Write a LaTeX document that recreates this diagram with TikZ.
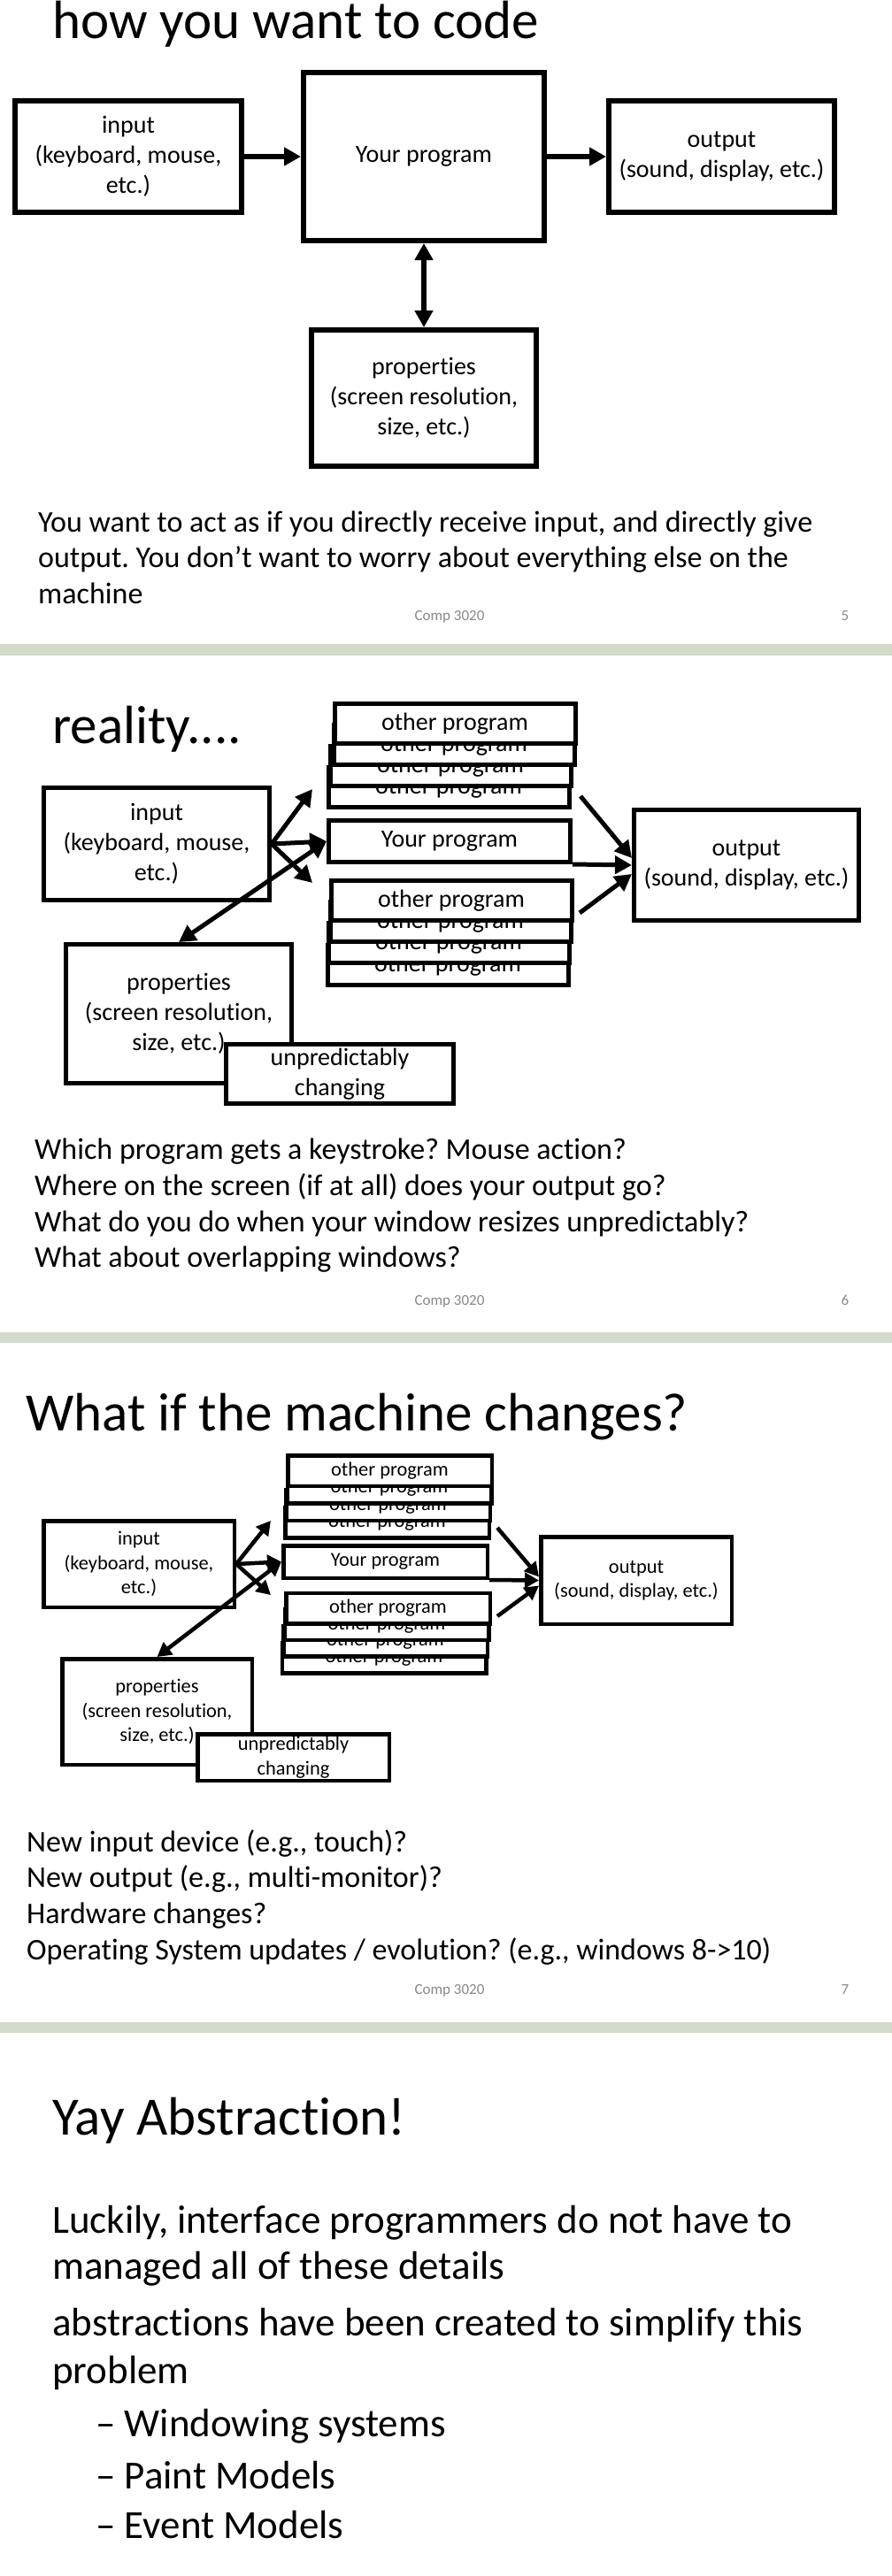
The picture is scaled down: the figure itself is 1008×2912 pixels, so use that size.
\documentclass[tikz,border=0pt]{standalone}
\usepackage{fontspec}
\setmainfont{Carlito}[Ligatures={NoCommon,NoRequired,NoContextual}]
\usetikzlibrary{arrows.meta}
\definecolor{BandGray}{RGB}{212,218,204}
\definecolor{FootGray}{RGB}{137,137,137}
\frenchspacing

\begin{document}
\begin{tikzpicture}[x=1pt,y=-1pt,>={Triangle[length=19pt,width=20pt]},
    box/.style={draw,line width=5pt,fill=white,align=center,inner sep=0pt,
      font=\fontsize{28}{34}\selectfont},
    smallbox/.style={box,line width=4.5pt,font=\fontsize{22.4}{27.5}\selectfont},
    conn/.style={line width=5pt},
    title/.style={anchor=base west,inner sep=0pt,font=\fontsize{61}{73}\selectfont},
    body/.style={anchor=base west,inner sep=0pt,font=\fontsize{34}{41}\selectfont},
    big/.style={anchor=base west,inner sep=0pt,font=\fontsize{45}{52}\selectfont},
    foot/.style={anchor=base,inner sep=0pt,text=FootGray,font=\fontsize{17}{20}\selectfont}]
  \useasboundingbox[fill=white] (0,0) rectangle (1008,2912);

  % slide 5
  \node[title] (t1) at (59,44) {how you want to code};
  \node[box,line width=6pt,minimum width=256pt,minimum height=126pt] (in1) at (145,177) {input\\(keyboard, mouse,\\etc.)};
  \node[box,line width=6pt,minimum width=272pt,minimum height=190pt] (prog1) at (479,177) {Your program};
  \node[box,line width=6pt,minimum width=255pt,minimum height=126pt] (out1) at (815.5,177) {output\\(sound, display, etc.)};
  \node[box,line width=6pt,minimum width=254pt,minimum height=154pt] (prop1) at (479,450) {properties\\(screen resolution,\\size, etc.)};
  \draw[conn,line width=6pt,->] (in1) -- (prog1);
  \draw[conn,line width=6pt,->] (prog1) -- (out1);
  \draw[conn,line width=6pt,<->] (prog1) -- (prop1);
  \foreach \yy/\txt [count=\i] in {601/{You want to act as if you directly receive input, and directly give},
      641/{output. You don’t want to worry about everything else on the},682/{machine}}
    \node[body] (a\i) at (43,\yy) {\txt};
  \node[foot] (f1) at (508,701) {Comp 3020};
  \node[foot] (n1) at (955,701) {5};
  \fill[BandGray] (0,728) rectangle (1008,741);

  % slide 6
  \node[title] (t2) at (59,840) {reality....};
  \foreach \xx/\yy [count=\i] in {507/890,509/866,513/842,514/818}
    \node[box,minimum width=272pt,minimum height=45pt] (oa\i) at (\xx,\yy) {other program};
  \node[box,minimum width=273pt,minimum height=47pt] (prog2) at (508,951) {Your program};
  \foreach \xx/\yy [count=\i] in {506/1091,507/1066,509/1042,510/1018}
    \node[box,minimum width=272pt,minimum height=45pt] (ob\i) at (\xx,\yy) {other program};
  \node[box,minimum width=255pt,minimum height=127pt] (in2) at (177,954) {input\\(keyboard, mouse,\\etc.)};
  \node[box,minimum width=254pt,minimum height=125pt] (out2) at (843.5,978) {output\\(sound, display, etc.)};
  \node[box,minimum width=255pt,minimum height=157pt] (prop2) at (202,1146) {properties\\(screen resolution,\\size, etc.)};
  \node[box,minimum width=257pt,minimum height=67pt] (chg2) at (384,1214) {unpredictably\\changing};
  \coordinate (up2) at (353,892);
  \coordinate (dn2) at (353,998);
  \coordinate (hi2) at (656,900);
  \coordinate (lo2) at (655,1032);
  \draw[conn,->] (in2.east) -- (up2);
  \draw[conn,->] (in2.east) -- (prog2.west);
  \draw[conn,->] (in2.east) -- (dn2);
  \draw[conn,<->] (prog2.west) -- (prop2.north);
  \draw[conn,->] (hi2) -- ([yshift=8pt]out2.west);
  \draw[conn,->] (prog2.south east) -- (out2.west);
  \draw[conn,->] (lo2) -- ([yshift=-10pt]out2.west);
  \foreach \yy/\txt [count=\i] in {1310/{Which program gets a keystroke? Mouse action?},
      1351/{Where on the screen (if at all) does your output go?},
      1392/{What do you do when your window resizes unpredictably?},
      1432/{What about overlapping windows?}}
    \node[body] (b\i) at (39,\yy) {\txt};
  \node[foot] (f2) at (508,1475.5) {Comp 3020};
  \node[foot] (n2) at (955,1475.5) {6};
  \fill[BandGray] (0,1506) rectangle (1008,1518);

  % slide 7
  \node[title] (t3) at (29,1617) {What if the machine changes?};
  \begin{scope}[>={Triangle[length=16pt,width=17pt]},conn/.style={line width=4.5pt}]
  \foreach \xx/\yy [count=\i] in {437.5/1721,438.5/1701.5,440/1682,440.5/1662.5}
    \node[smallbox,minimum width=230.5pt,minimum height=34.5pt] (oc\i) at (\xx,\yy) {other program};
  \node[smallbox,minimum width=230.5pt,minimum height=36.5pt] (prog3) at (435.5,1765.5) {Your program};
  \foreach \xx/\yy [count=\i] in {434/1874,435.5/1855,437/1836.5,438.5/1818}
    \node[smallbox,minimum width=230.5pt,minimum height=34.5pt] (od\i) at (\xx,\yy) {other program};
  \node[smallbox,minimum width=215.5pt,minimum height=97.5pt] (in3) at (157,1768) {input\\(keyboard, mouse,\\etc.)};
  \node[smallbox,minimum width=215.5pt,minimum height=98.5pt] (out3) at (719,1786.5) {output\\(sound, display, etc.)};
  \node[smallbox,minimum width=214.5pt,minimum height=119.5pt] (prop3) at (177.5,1935) {properties\\(screen resolution,\\size, etc.)};
  \node[smallbox,minimum width=216.5pt,minimum height=52.5pt] (chg3) at (331.5,1986.5) {unpredictably\\changing};
  \coordinate (up3) at (306,1719);
  \coordinate (dn3) at (306,1803);
  \coordinate (hi3) at (562,1727);
  \coordinate (lo3) at (562,1827);
  \draw[conn,->] (in3.east) -- (up3);
  \draw[conn,->] (in3.east) -- (prog3.west);
  \draw[conn,->] (in3.east) -- (dn3);
  \draw[conn,<->] (prog3.west) -- (prop3.north);
  \draw[conn,->] (hi3) -- ([yshift=4pt]out3.west);
  \draw[conn,->] (prog3.south east) -- (out3.west);
  \draw[conn,->] (lo3) -- ([yshift=-6pt]out3.west);
  \end{scope}
  \foreach \yy/\txt [count=\i] in {2093/{New input device (e.g., touch)?},
      2133/{New output (e.g., multi-monitor)?},2174/{Hardware changes?},
      2215/{Operating System updates / evolution? (e.g., windows 8->10)}}
    \node[body] (c\i) at (30,\yy) {\txt};
  \node[foot] (f3) at (508,2254.5) {Comp 3020};
  \node[foot] (n3) at (955,2254.5) {7};
  \fill[BandGray] (0,2286) rectangle (1008,2298);

  % slide 8
  \node[title] (t4) at (59,2413) {Yay Abstraction!};
  \foreach \yy/\txt [count=\i] in {2524/{Luckily, interface programmers do not have to},
      2576/{managed all of these details},2640/{abstractions have been created to simplify this},
      2694/{problem}}
    \node[big] (d\i) at (59,\yy) {\txt};
  \foreach \yy/\txt [count=\i] in {2754/{Windowing systems},2813/{Paint Models},2869/{Event Models}}
    \node[big] (e\i) at (108,\yy) {– \txt};
\end{tikzpicture}
\end{document}
